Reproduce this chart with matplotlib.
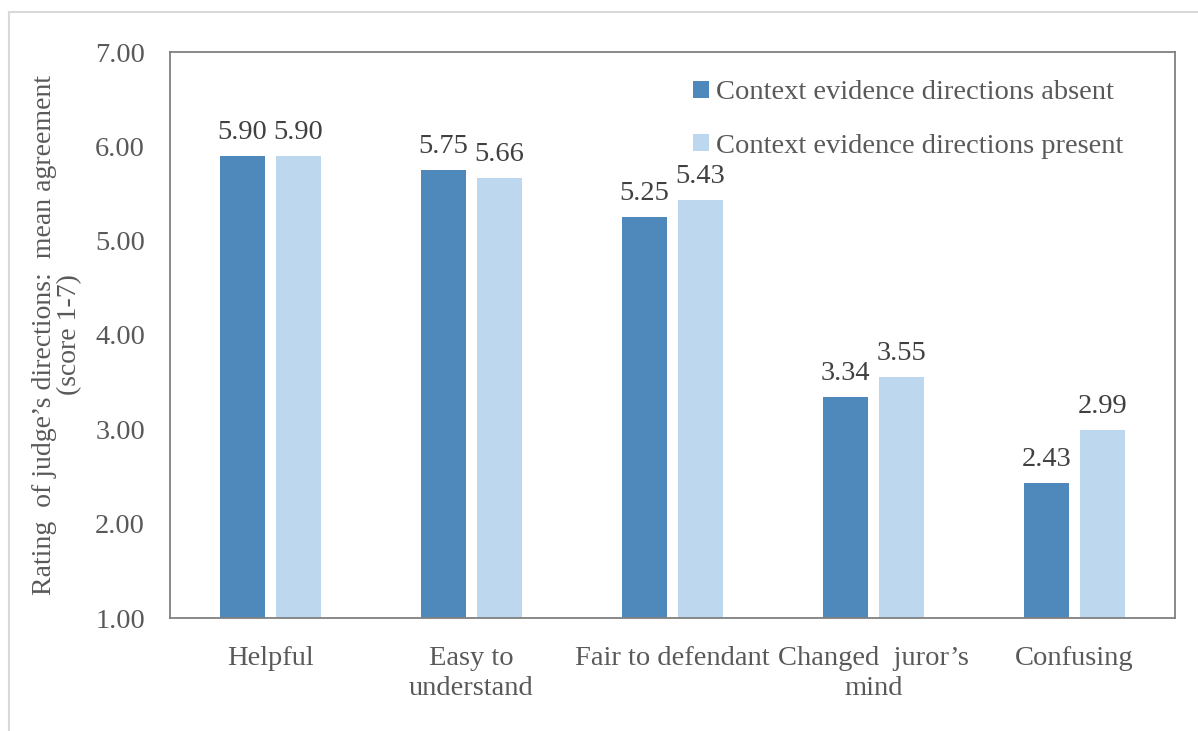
import matplotlib.pyplot as plt
import numpy as np

categories = ["Helpful", "Easy to\nunderstand", "Fair to defendant", "Changed  juror\u2019s\nmind", "Confusing"]
absent = [5.90, 5.75, 5.25, 3.34, 2.43]
present = [5.90, 5.66, 5.43, 3.55, 2.99]
series_names = ["Context evidence directions absent", "Context evidence directions present"]

plt.rcParams['font.family'] = ['Liberation Serif', 'DejaVu Serif']
grey = "#595959"

fig = plt.figure(figsize=(11.98, 7.31), dpi=100)
ax = fig.add_axes([170/1198, 1 - 618/731, 1005/1198, 566/731])

x = np.arange(len(categories))
w = 0.224
b1 = ax.bar(x - 0.14, np.array(absent) - 1, w, bottom=1, color="#4F88BB", label=series_names[0])
b2 = ax.bar(x + 0.14, np.array(present) - 1, w, bottom=1, color="#BDD7EE", label=series_names[1])

for bars, vals in [(b1, absent), (b2, present)]:
    for r, v in zip(bars, vals):
        ax.annotate("%.2f" % v, (r.get_x() + r.get_width() / 2, v), xytext=(0, 8),
                    textcoords="offset points", ha="center", va="bottom",
                    fontsize=20.5, color="#404040")

ax.set_xlim(-0.5, 4.5)
ax.set_ylim(1, 7)
ax.set_yticks(np.arange(1, 8))
ax.set_yticklabels(["%.2f" % t for t in np.arange(1, 8)])
ax.set_xticks(x)
ax.set_xticklabels(categories, linespacing=1.3)
ax.tick_params(length=0, labelsize=20.5, colors=grey)
ax.tick_params(axis="x", pad=20)
ax.tick_params(axis="y", pad=18)
for s in ax.spines.values():
    s.set_color("#808080")
    s.set_linewidth(1.3)

ax.set_ylabel("Rating  of judge\u2019s directions:  mean agreement\n(score 1-7)",
              fontsize=20, color=grey, linespacing=1.05)
ax.yaxis.set_label_coords(-0.087, 0.5)

leg = ax.legend(loc="upper right", bbox_to_anchor=(0.974, 0.995), frameon=False, fontsize=20.5,
                labelcolor=grey, handlelength=0.55, handleheight=0.55, handletextpad=0.25,
                labelspacing=1.0)

# light outer frame (left and top edges visible)
fig.add_artist(plt.Line2D([8.5/1198, 8.5/1198], [0, 1 - 12/731], color="#D9D9D9", lw=1.5))
fig.add_artist(plt.Line2D([8.5/1198, 1], [1 - 12/731, 1 - 12/731], color="#D9D9D9", lw=1.5))

fig.savefig("out.png", dpi=100)
